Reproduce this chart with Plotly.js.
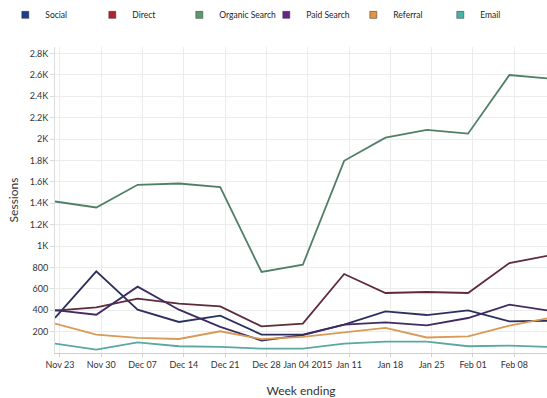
<!DOCTYPE html>
<html>
<head>
<meta charset="utf-8">
<script src="https://cdn.plot.ly/plotly-3.0.1.min.js"></script>
<style>html,body{margin:0;padding:0;background:#fff;}#chart{width:547px;height:398px;}</style>
</head>
<body>
<div id="chart"></div>
<script>
// ---- data ----
const weeks = ['2014-11-23','2014-11-30','2014-12-07','2014-12-14','2014-12-21','2014-12-28',
               '2015-01-04','2015-01-11','2015-01-18','2015-01-25','2015-02-01','2015-02-08','2015-02-15'];
const weekLabels = ['Nov 23','Nov 30','Dec 07','Dec 14','Dec 21','Dec 28','Jan 04 2015',
                    'Jan 11','Jan 18','Jan 25','Feb 01','Feb 08','Feb 15'];
const social   = [328, 763, 405, 290, 349, 172, 172, 265, 389, 355, 399, 296, 302];
const direct   = [396, 427, 508, 462, 436, 249, 274, 738, 561, 570, 561, 841, 915];
const organic  = [1416, 1360, 1572, 1584, 1550, 757, 825, 1796, 2013, 2085, 2050, 2598, 2564];
const paid     = [400, 358, 620, 405, 245, 117, 168, 265, 287, 259, 327, 452, 394];
const referral = [274, 172, 141, 131, 203, 130, 150, 193, 234, 145, 156, 256, 330];
const email    = [88, 32, 100, 63, 57, 41, 41, 88, 106, 106, 63, 69, 57];
const seriesNames = ['Social','Direct','Organic Search','Paid Search','Referral','Email'];
const yTickVals = [200,400,600,800,1000,1200,1400,1600,1800,2000,2200,2400,2600,2800];
const yTickText = ['200','400','600','800','1K','1.2K','1.4K','1.6K','1.8K','2K','2.2K','2.4K','2.6K','2.8K'];

// ---- styles ----
const lineColors   = ['#2c305f','#5e2a3c','#4f8066','#3f2b62','#d89a55','#5aa8a0'];
const legendColors = ['#1d3e8e','#b5202e','#5b9a6e','#6b2385','#e3953f','#45b3a6'];
const seriesData = [social, direct, organic, paid, referral, email];
const FONT = 'Lato, Roboto, sans-serif';

const traces = [];
seriesData.forEach((vals, i) => {
  traces.push({
    x: weeks, y: vals, type: 'scatter', mode: 'lines',
    line: {color: lineColors[i], width: 1.8},
    name: seriesNames[i], showlegend: false, hoverinfo: 'x+y+name'
  });
});
seriesNames.forEach((n, i) => {
  traces.push({
    x: [null], y: [null], type: 'scatter', mode: 'markers',
    marker: {color: legendColors[i], symbol: 'square', size: 7, line: {color: '#333', width: 0.5}},
    name: n, showlegend: true
  });
});

const layout = {
  width: 547, height: 398,
  margin: {l: 55, r: 0, t: 47, b: 45},
  paper_bgcolor: '#fff', plot_bgcolor: '#fff',
  font: {family: FONT, size: 9, color: '#333'},
  showlegend: true,
  legend: {
    orientation: 'h', x: -0.101, xanchor: 'left', y: 1.105, yanchor: 'middle',
    entrywidth: 42, entrywidthmode: 'pixels', itemwidth: 30,
    font: {family: FONT, size: 8.5, color: '#222'}, bgcolor: 'rgba(0,0,0,0)'
  },
  xaxis: {
    type: 'date',
    range: ['2014-11-23', '2015-02-14 09:00'],
    tickvals: weeks.map(d => d + ' 20:00'),
    ticktext: weekLabels,
    showgrid: true, gridcolor: '#ececec', gridwidth: 1,
    showline: true, linecolor: '#cfcfcf', linewidth: 1,
    ticks: 'outside', ticklen: 3, tickcolor: '#cfcfcf',
    tickfont: {family: FONT, size: 9, color: '#333'},
    zeroline: false,
    title: {text: 'Week ending', font: {family: FONT, size: 12, color: '#333'}, standoff: 18}
  },
  yaxis: {
    range: [0, 2860],
    tickvals: yTickVals, ticktext: yTickText,
    showgrid: true, gridcolor: '#ececec', gridwidth: 1,
    showline: true, linecolor: '#dcdcdc', linewidth: 1,
    ticks: 'outside', ticklen: 4, tickcolor: '#dcdcdc',
    tickfont: {family: FONT, size: 9, color: '#333'},
    zeroline: false,
    title: {text: 'Sessions', font: {family: FONT, size: 12, color: '#333'}, standoff: 8}
  }
};

Plotly.newPlot('chart', traces, layout, {displayModeBar: false, staticPlot: true});
</script>
</body>
</html>
